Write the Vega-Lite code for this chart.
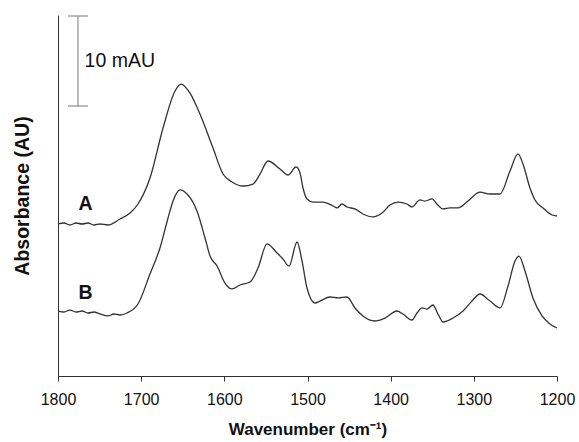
{
  "$schema": "https://vega.github.io/schema/vega-lite/v6.json",
  "autosize": {"type": "none"},
  "width": 499,
  "height": 361,
  "padding": {"left": 58, "top": 15, "right": 22, "bottom": 66},
  "background": "white",
  "config": {"view": {"stroke": null}, "font": "Liberation Sans"},
  "datasets": {
    "spectra": [
      {"s": "A", "w": 1800, "a": 16.89}, {"s": "A", "w": 1792.8, "a": 17.0}, {"s": "A", "w": 1785.6, "a": 16.78},
      {"s": "A", "w": 1778.4, "a": 17.0}, {"s": "A", "w": 1771.1, "a": 16.89}, {"s": "A", "w": 1763.9, "a": 17.0},
      {"s": "A", "w": 1756.7, "a": 16.78}, {"s": "A", "w": 1749.5, "a": 16.89}, {"s": "A", "w": 1739.9, "a": 16.78},
      {"s": "A", "w": 1725.5, "a": 17.44}, {"s": "A", "w": 1713.4, "a": 18.11}, {"s": "A", "w": 1703.8, "a": 19.11},
      {"s": "A", "w": 1689.4, "a": 22.0}, {"s": "A", "w": 1673.7, "a": 27.56}, {"s": "A", "w": 1659.3, "a": 31.67},
      {"s": "A", "w": 1652.1, "a": 32.44}, {"s": "A", "w": 1641.3, "a": 31.44}, {"s": "A", "w": 1629.3, "a": 29.11},
      {"s": "A", "w": 1613.6, "a": 25.33}, {"s": "A", "w": 1601.6, "a": 22.44}, {"s": "A", "w": 1590.8, "a": 21.56},
      {"s": "A", "w": 1577.6, "a": 21.11}, {"s": "A", "w": 1565.5, "a": 21.33}, {"s": "A", "w": 1557.1, "a": 22.44},
      {"s": "A", "w": 1547.5, "a": 23.89}, {"s": "A", "w": 1533.1, "a": 23.0}, {"s": "A", "w": 1523.4, "a": 22.33},
      {"s": "A", "w": 1513.8, "a": 23.22}, {"s": "A", "w": 1509.0, "a": 22.56}, {"s": "A", "w": 1505.4, "a": 20.89},
      {"s": "A", "w": 1500.6, "a": 19.67}, {"s": "A", "w": 1493.4, "a": 19.33}, {"s": "A", "w": 1481.4, "a": 19.33},
      {"s": "A", "w": 1469.3, "a": 18.89}, {"s": "A", "w": 1464.5, "a": 18.67}, {"s": "A", "w": 1458.5, "a": 19.11},
      {"s": "A", "w": 1452.5, "a": 18.78}, {"s": "A", "w": 1442.9, "a": 18.56}, {"s": "A", "w": 1433.3, "a": 18.0},
      {"s": "A", "w": 1421.2, "a": 17.67}, {"s": "A", "w": 1410.4, "a": 18.11}, {"s": "A", "w": 1400.8, "a": 19.0},
      {"s": "A", "w": 1391.2, "a": 19.33}, {"s": "A", "w": 1380.4, "a": 19.11}, {"s": "A", "w": 1374.4, "a": 18.78},
      {"s": "A", "w": 1364.7, "a": 19.56}, {"s": "A", "w": 1358.7, "a": 19.44}, {"s": "A", "w": 1350.3, "a": 19.67},
      {"s": "A", "w": 1344.3, "a": 19.11}, {"s": "A", "w": 1337.1, "a": 18.56}, {"s": "A", "w": 1328.7, "a": 18.67},
      {"s": "A", "w": 1319.0, "a": 18.67}, {"s": "A", "w": 1307.0, "a": 19.44}, {"s": "A", "w": 1292.6, "a": 20.44},
      {"s": "A", "w": 1280.6, "a": 20.22}, {"s": "A", "w": 1268.5, "a": 20.22}, {"s": "A", "w": 1256.5, "a": 22.78},
      {"s": "A", "w": 1246.9, "a": 24.67}, {"s": "A", "w": 1240.9, "a": 23.56}, {"s": "A", "w": 1232.5, "a": 20.89},
      {"s": "A", "w": 1226.5, "a": 19.56}, {"s": "A", "w": 1216.8, "a": 18.67}, {"s": "A", "w": 1206.0, "a": 17.89},
      {"s": "A", "w": 1200, "a": 17.78},

      {"s": "B", "w": 1800, "a": 7.22}, {"s": "B", "w": 1792.8, "a": 7.11}, {"s": "B", "w": 1785.6, "a": 7.33},
      {"s": "B", "w": 1778.4, "a": 7.11}, {"s": "B", "w": 1771.1, "a": 7.22}, {"s": "B", "w": 1763.9, "a": 7.0},
      {"s": "B", "w": 1756.7, "a": 7.11}, {"s": "B", "w": 1749.5, "a": 6.89}, {"s": "B", "w": 1739.9, "a": 6.67},
      {"s": "B", "w": 1732.7, "a": 6.89}, {"s": "B", "w": 1725.5, "a": 6.78}, {"s": "B", "w": 1717.0, "a": 7.0},
      {"s": "B", "w": 1703.8, "a": 8.0}, {"s": "B", "w": 1689.4, "a": 11.33}, {"s": "B", "w": 1677.4, "a": 14.22},
      {"s": "B", "w": 1667.7, "a": 17.56}, {"s": "B", "w": 1661.7, "a": 19.44}, {"s": "B", "w": 1653.3, "a": 20.67},
      {"s": "B", "w": 1644.9, "a": 20.22}, {"s": "B", "w": 1632.9, "a": 18.33}, {"s": "B", "w": 1623.2, "a": 15.33},
      {"s": "B", "w": 1617.2, "a": 13.33}, {"s": "B", "w": 1608.8, "a": 12.22}, {"s": "B", "w": 1599.2, "a": 10.33},
      {"s": "B", "w": 1590.8, "a": 9.67}, {"s": "B", "w": 1581.2, "a": 10.11}, {"s": "B", "w": 1569.1, "a": 10.44},
      {"s": "B", "w": 1559.5, "a": 12.0}, {"s": "B", "w": 1548.7, "a": 14.67}, {"s": "B", "w": 1536.7, "a": 13.67},
      {"s": "B", "w": 1529.5, "a": 13.0}, {"s": "B", "w": 1522.2, "a": 12.22}, {"s": "B", "w": 1512.6, "a": 14.89},
      {"s": "B", "w": 1506.6, "a": 12.78}, {"s": "B", "w": 1500.6, "a": 9.78}, {"s": "B", "w": 1491.0, "a": 8.11},
      {"s": "B", "w": 1484.9, "a": 8.33}, {"s": "B", "w": 1472.9, "a": 8.78}, {"s": "B", "w": 1463.3, "a": 8.67},
      {"s": "B", "w": 1452.5, "a": 8.78}, {"s": "B", "w": 1442.9, "a": 7.56}, {"s": "B", "w": 1433.3, "a": 6.67},
      {"s": "B", "w": 1418.8, "a": 6.11}, {"s": "B", "w": 1406.8, "a": 6.44}, {"s": "B", "w": 1392.4, "a": 7.22},
      {"s": "B", "w": 1385.2, "a": 6.89}, {"s": "B", "w": 1374.4, "a": 6.22}, {"s": "B", "w": 1368.3, "a": 7.0},
      {"s": "B", "w": 1362.3, "a": 7.56}, {"s": "B", "w": 1356.3, "a": 7.44}, {"s": "B", "w": 1349.1, "a": 7.89},
      {"s": "B", "w": 1343.1, "a": 6.89}, {"s": "B", "w": 1337.1, "a": 6.0}, {"s": "B", "w": 1325.0, "a": 6.44},
      {"s": "B", "w": 1313.0, "a": 7.22}, {"s": "B", "w": 1302.2, "a": 8.33}, {"s": "B", "w": 1292.6, "a": 9.11},
      {"s": "B", "w": 1280.6, "a": 8.33}, {"s": "B", "w": 1268.5, "a": 7.56}, {"s": "B", "w": 1258.9, "a": 10.0},
      {"s": "B", "w": 1250.5, "a": 12.78}, {"s": "B", "w": 1245.7, "a": 13.33}, {"s": "B", "w": 1238.5, "a": 11.67},
      {"s": "B", "w": 1228.9, "a": 8.67}, {"s": "B", "w": 1218.0, "a": 6.67}, {"s": "B", "w": 1208.4, "a": 5.78},
      {"s": "B", "w": 1200, "a": 5.33}
    ]
  },
  "layer": [
    {
      "data": {"name": "spectra"},
      "mark": {"type": "line", "interpolate": "monotone", "strokeWidth": 1.3, "color": "#333333"},
      "encoding": {
        "x": {
          "field": "w", "type": "quantitative",
          "scale": {"domain": [1200, 1800], "reverse": true, "nice": false, "zero": false},
          "axis": {
            "title": "Wavenumber (cm⁻¹)", "values": [1200, 1300, 1400, 1500, 1600, 1700, 1800], "format": "d",
            "grid": false, "domainColor": "#333333", "tickColor": "#333333", "tickSize": 5,
            "labelFontSize": 16, "labelColor": "#111111", "labelPadding": 10, "labelFont": "Liberation Sans",
            "titleFont": "Liberation Sans", "titleFontSize": 17, "titleFontWeight": "bold", "titleColor": "#111111",
            "titlePadding": 14, "labelFlush": false
          }
        },
        "y": {
          "field": "a", "type": "quantitative",
          "scale": {"domain": [0, 40.111], "nice": false, "zero": false},
          "axis": {
            "title": "Absorbance (AU)", "ticks": false, "labels": false, "grid": false,
            "domainColor": "#333333", "titleFont": "Liberation Sans", "titleFontSize": 19.5,
            "titleFontWeight": "bold", "titleColor": "#111111", "titlePadding": 26
          }
        },
        "detail": {"field": "s"}
      }
    },
    {
      "data": {"values": [{"w": 1776, "a1": 30, "a2": 40}]},
      "mark": {"type": "rule", "color": "#8c8c8c", "strokeWidth": 1.2},
      "encoding": {
        "x": {"field": "w", "type": "quantitative"},
        "y": {"field": "a1", "type": "quantitative"},
        "y2": {"field": "a2"}
      }
    },
    {
      "data": {"values": [{"w1": 1788, "w2": 1764, "a": 30}, {"w1": 1788, "w2": 1764, "a": 40}]},
      "mark": {"type": "rule", "color": "#8c8c8c", "strokeWidth": 1.2},
      "encoding": {
        "x": {"field": "w1", "type": "quantitative"},
        "x2": {"field": "w2"},
        "y": {"field": "a", "type": "quantitative"}
      }
    },
    {
      "data": {"values": [{"w": 1768, "a": 35, "t": "10 mAU"}]},
      "mark": {"type": "text", "align": "left", "baseline": "middle", "fontSize": 19.5, "font": "Liberation Sans", "color": "#111111"},
      "encoding": {
        "x": {"field": "w", "type": "quantitative"},
        "y": {"field": "a", "type": "quantitative"},
        "text": {"field": "t"}
      }
    },
    {
      "data": {"values": [{"w": 1767, "a": 19.1, "t": "A"}, {"w": 1767, "a": 9.2, "t": "B"}]},
      "mark": {"type": "text", "align": "center", "baseline": "middle", "fontSize": 19.5, "fontWeight": "bold", "font": "Liberation Sans", "color": "#111111"},
      "encoding": {
        "x": {"field": "w", "type": "quantitative"},
        "y": {"field": "a", "type": "quantitative"},
        "text": {"field": "t"}
      }
    }
  ]
}
